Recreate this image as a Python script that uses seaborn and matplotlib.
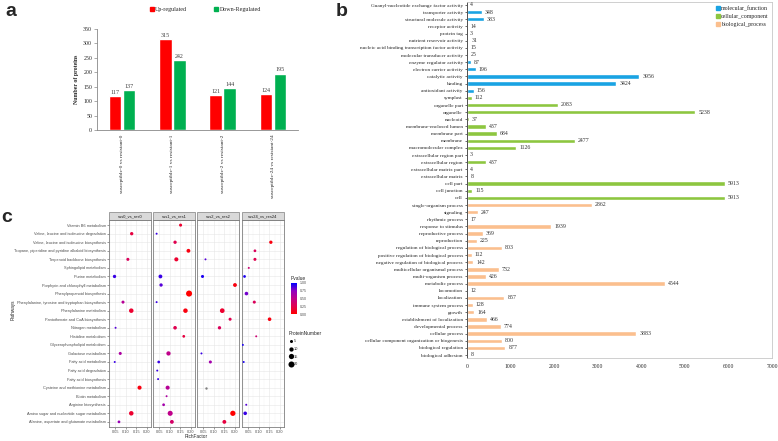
import numpy as np
import pandas as pd
import matplotlib
matplotlib.use('Agg')
import matplotlib.pyplot as plt
import seaborn as sns
from matplotlib.colors import LinearSegmentedColormap, Normalize
from matplotlib.colorbar import ColorbarBase
from matplotlib.patches import Rectangle
from matplotlib.lines import Line2D

sns.set_style('white')
plt.rcParams['font.family'] = 'Liberation Serif'

W, H = 778, 441

# --- panel a data ---
comparisons = ['susceptible-0 vs resistant-0', 'susceptible-1 vs resistant-1',
               'susceptible-2 vs resistant-2', 'susceptible-24 vs resistant-24']
up_counts = [117, 315, 121, 124]
down_counts = [137, 242, 144, 195]

# --- panel b data ---
mf_terms = ['Guanyl-nucleotide exchange factor activity', 'transporter activity',
            'structural molecule activity', 'receptor activity', 'protein tag',
            'nutrient reservoir activity', 'nucleic acid binding transcription factor activity',
            'molecular transducer activity', 'enzyme regulator activity',
            'electron carrier activity', 'catalytic activity', 'binding', 'antioxidant activity']
mf_counts = [4, 348, 383, 14, 3, 31, 15, 25, 87, 196, 3956, 3424, 156]
cc_terms = ['symplast', 'organelle part', 'organelle', 'nucleoid', 'membrane-enclosed lumen',
            'membrane part', 'membrane', 'macromolecular complex', 'extracellular region part',
            'extracellular region', 'extracellular matrix part', 'extracellular matrix',
            'cell part', 'cell junction', 'cell']
cc_counts = [112, 2083, 5238, 37, 437, 684, 2477, 1126, 3, 437, 4, 8, 5913, 115, 5913]
bp_terms = ['single-organism process', 'signaling', 'rhythmic process', 'response to stimulus',
            'reproductive process', 'reproduction', 'regulation of biological process',
            'positive regulation of biological process', 'negative regulation of biological process',
            'multicellular organismal process', 'multi-organism process', 'metabolic process',
            'locomotion', 'localization', 'immune system process', 'growth',
            'establishment of localization', 'developmental process', 'cellular process',
            'cellular component organization or biogenesis', 'biological regulation',
            'biological adhesion']
bp_counts = [2862, 247, 17, 1939, 369, 225, 803, 112, 142, 732, 426, 4544, 12, 857, 128, 164,
             466, 774, 3883, 800, 877, 8]
go_classes = ['molecular_function', 'cellular_component', 'biological_process']
go_colors = ['#1aa3e3', '#8dc640', '#fbbf8e']

# --- panel c data ---
pathways = ['Vitamin B6 metabolism', 'Valine, leucine and isoleucine degradation',
            'Valine, leucine and isoleucine biosynthesis',
            'Tropane, piperidine and pyridine alkaloid biosynthesis',
            'Terpenoid backbone biosynthesis', 'Sphingolipid metabolism', 'Purine metabolism',
            'Porphyrin and chlorophyll metabolism', 'Phenylpropanoid biosynthesis',
            'Phenylalanine, tyrosine and tryptophan biosynthesis', 'Phenylalanine metabolism',
            'Pantothenate and CoA biosynthesis', 'Nitrogen metabolism', 'Histidine metabolism',
            'Glycerophospholipid metabolism', 'Galactose metabolism', 'Fatty acid metabolism',
            'Fatty acid degradation', 'Fatty acid biosynthesis',
            'Cysteine and methionine metabolism', 'Biotin metabolism', 'Arginine biosynthesis',
            'Amino sugar and nucleotide sugar metabolism',
            'Alanine, aspartate and glutamate metabolism']
facets = ['sus0_vs_res0', 'sus1_vs_res1', 'sus2_vs_res2', 'sus24_vs_res24']

# row index into pathways, rich factor, p value, protein number
sus0_row = [1, 4, 6, 9, 10, 12, 15, 16, 19, 22, 23]
sus0_rich = [0.128, 0.110, 0.047, 0.087, 0.126, 0.052, 0.074, 0.048, 0.165, 0.126, 0.068]
sus0_p = [0.2, 0.3, 0.9, 0.55, 0.15, 0.85, 0.6, 0.9, 0.05, 0.15, 0.7]
sus0_n = [6, 5, 6, 5, 11, 2, 5, 2, 9, 11, 4]

sus1_row = [0, 1, 2, 3, 4, 6, 7, 8, 9, 10, 12, 13, 15, 16, 17, 18, 19, 20, 21, 22, 23]
sus1_rich = [0.151, 0.038, 0.125, 0.188, 0.131, 0.056, 0.059, 0.191, 0.038, 0.174, 0.125,
             0.166, 0.094, 0.048, 0.041, 0.045, 0.090, 0.085, 0.071, 0.102, 0.110]
sus1_p = [0.15, 0.9, 0.25, 0.05, 0.15, 0.9, 0.85, 0.0, 0.9, 0.05, 0.25, 0.2, 0.5, 0.9, 0.9,
          0.9, 0.55, 0.6, 0.65, 0.5, 0.35]
sus1_n = [5, 2, 6, 8, 9, 8, 6, 20, 2, 11, 7, 4, 10, 4, 2, 2, 9, 2, 4, 14, 8]

sus2_row = [4, 6, 7, 10, 11, 12, 15, 16, 19, 22, 23]
sus2_rich = [0.061, 0.047, 0.200, 0.140, 0.177, 0.127, 0.042, 0.084, 0.064, 0.190, 0.150]
sus2_p = [0.85, 0.95, 0.05, 0.15, 0.25, 0.3, 0.9, 0.65, np.nan, 0.0, 0.2]
sus2_n = [2, 5, 8, 12, 5, 6, 2, 5, 3, 15, 8]

sus24_row = [2, 3, 4, 5, 6, 8, 9, 11, 13, 14, 16, 21, 22]
sus24_rich = [0.157, 0.082, 0.082, 0.053, 0.033, 0.042, 0.079, 0.151, 0.088, 0.025, 0.029,
              0.041, 0.036]
sus24_p = [0.05, 0.3, 0.25, 0.4, 0.95, 0.8, 0.3, 0.05, 0.4, 0.95, 0.95, 0.85, 0.9]
sus24_n = [6, 4, 5, 2, 4, 7, 5, 7, 2, 2, 2, 2, 7]

size_levels = [5, 10, 15, 20]

fig = plt.figure(figsize=(W / 100, H / 100), dpi=100)

# ================= a =================
ax_a = fig.add_axes([97 / W, 1 - 130 / H, 201 / W, 101 / H])
df_a = pd.DataFrame({'comparison': comparisons * 2,
                     'count': up_counts + down_counts,
                     'type': ['Up-regulated'] * 4 + ['Down-Regulated'] * 4})
sns.barplot(data=df_a, x='comparison', y='count', hue='type',
            palette=['#ff0000', '#00b050'], width=0.56, gap=0.12, ax=ax_a,
            legend=False, saturation=1, errorbar=None)
for cont in ax_a.containers:
    ax_a.bar_label(cont, fontsize=4.3, padding=1, color='#404040')
ax_a.set_ylim(0, 350)
ax_a.set_yticks(range(0, 351, 50))
ax_a.set_xlim(-0.5, 3.5)
ax_a.set_xticks(range(4))
ax_a.set_xticklabels(comparisons, rotation=90, fontsize=3.9, va='top')
ax_a.tick_params(axis='x', length=0, pad=3)
ax_a.tick_params(axis='y', labelsize=4.2, length=2, width=0.5, pad=1.5, left=True,
                 color='#888888')
ax_a.set_xlabel('')
ax_a.set_ylabel('Number of proteins', fontsize=4.2, fontweight='bold', labelpad=3)
for s in ['top', 'right']:
    ax_a.spines[s].set_visible(False)
for s in ['left', 'bottom']:
    ax_a.spines[s].set_color('#888888')
    ax_a.spines[s].set_linewidth(0.6)
ax_a.legend(handles=[Line2D([], [], marker='s', ls='', color='#ff0000', markersize=2.5),
                     Line2D([], [], marker='s', ls='', color='#00b050', markersize=2.5)],
            labels=['Up-regulated', 'Down-Regulated'], ncol=2, loc='center',
            bbox_to_anchor=(0.54, 1.19), frameon=False, fontsize=4.3,
            handlelength=0.6, handletextpad=0.2, columnspacing=4.6)

# ================= b =================
ax_b = fig.add_axes([467 / W, 1 - 358 / H, 305 / W, 356 / H])
go_terms = mf_terms + cc_terms + bp_terms
go_counts = mf_counts + cc_counts + bp_counts
go_class = ([go_classes[0]] * len(mf_terms) + [go_classes[1]] * len(cc_terms)
            + [go_classes[2]] * len(bp_terms))
df_b = pd.DataFrame({'term': go_terms, 'count': go_counts, 'class': go_class})
sns.barplot(data=df_b, y='term', x='count', hue='class', palette=go_colors,
            dodge=False, width=0.62, ax=ax_b, legend=False, saturation=1,
            errorbar=None, orient='h')
for i, v in enumerate(go_counts):
    ax_b.text(v + 70, i, str(v), va='center', ha='left', fontsize=4.2, color='#333333')
ax_b.set_xlim(0, 7000)
ax_b.set_xticks(range(0, 7001, 1000))
ax_b.set_ylim(len(go_terms) - 1 + 0.42, -0.42)
ax_b.set_xlabel('')
ax_b.set_ylabel('')
ax_b.tick_params(axis='y', labelsize=3.8, length=1.5, width=0.5, pad=1.5, left=True,
                 color='#333333')
ax_b.tick_params(axis='x', labelsize=4.1, length=0, pad=4)
for s in ['top', 'right', 'bottom']:
    ax_b.spines[s].set_color('#c8c8c8')
    ax_b.spines[s].set_linewidth(0.6)
ax_b.spines['left'].set_color('#333333')
ax_b.spines['left'].set_linewidth(0.6)
ax_b.legend(handles=[Line2D([], [], marker='s', ls='', color=c, markersize=2.3)
                     for c in go_colors],
            labels=go_classes, loc='upper left', bbox_to_anchor=(0.805, 1.0),
            frameon=False, fontsize=4.2, handlelength=0.5, handletextpad=0.2,
            labelspacing=0.45, borderaxespad=0.3)

# ================= c =================
cmap_c = LinearSegmentedColormap.from_list(
    'pv', ['#ff0000', '#e0004f', '#bf008a', '#9000c0', '#0000ff'])
df_c = pd.concat([
    pd.DataFrame({'facet': facets[0], 'row': sus0_row, 'RichFactor': sus0_rich,
                  'Pvalue': sus0_p, 'ProteinNumber': sus0_n}),
    pd.DataFrame({'facet': facets[1], 'row': sus1_row, 'RichFactor': sus1_rich,
                  'Pvalue': sus1_p, 'ProteinNumber': sus1_n}),
    pd.DataFrame({'facet': facets[2], 'row': sus2_row, 'RichFactor': sus2_rich,
                  'Pvalue': sus2_p, 'ProteinNumber': sus2_n}),
    pd.DataFrame({'facet': facets[3], 'row': sus24_row, 'RichFactor': sus24_rich,
                  'Pvalue': sus24_p, 'ProteinNumber': sus24_n}),
], ignore_index=True)

sizes_c = (2, 19)
norm_c = (2, 20)
facet_x = [109, 153, 197, 242]
plt.rcParams['font.family'] = 'Liberation Sans'
for k, name in enumerate(facets):
    ax = fig.add_axes([facet_x[k] / W, 1 - 427 / H, 42 / W, 207 / H])
    sub = df_c[df_c['facet'] == name]
    ok = sub.dropna(subset=['Pvalue'])
    sns.scatterplot(data=ok, x='RichFactor', y='row', hue='Pvalue', palette=cmap_c,
                    hue_norm=(0, 1), size='ProteinNumber', sizes=sizes_c, size_norm=norm_c,
                    ax=ax, legend=False, linewidth=0, zorder=3)
    na = sub[sub['Pvalue'].isna()]
    if len(na):
        sns.scatterplot(data=na, x='RichFactor', y='row', color='#7f7f7f',
                        size='ProteinNumber', sizes=sizes_c, size_norm=norm_c,
                        ax=ax, legend=False, linewidth=0, zorder=3)
    ax.set_xlim(0.021, 0.219)
    ax.set_ylim(len(pathways) - 1 + 0.6, -0.6)
    ax.set_xticks([0.05, 0.10, 0.15, 0.20])
    ax.set_xticklabels(['0.05', '0.10', '0.15', '0.20'])
    ax.set_xticks([0.025, 0.075, 0.125, 0.175], minor=True)
    ax.set_yticks(range(len(pathways)))
    ax.grid(which='major', color='#e6e6e6', lw=0.4)
    ax.grid(which='minor', axis='x', color='#f2f2f2', lw=0.3)
    ax.set_axisbelow(True)
    ax.tick_params(axis='x', which='major', labelsize=2.8, length=1.2, width=0.4, pad=1,
                   colors='#4d4d4d', bottom=True)
    ax.tick_params(axis='x', which='minor', length=0)
    if k == 0:
        ax.set_yticklabels(pathways)
        ax.tick_params(axis='y', labelsize=2.8, length=1.2, width=0.4, pad=1,
                       colors='#4d4d4d', left=True)
    else:
        ax.tick_params(axis='y', labelleft=False, length=0)
    ax.set_xlabel('')
    ax.set_ylabel('')
    for s in ax.spines.values():
        s.set_color('#7f7f7f')
        s.set_linewidth(0.6)
    ax.add_patch(Rectangle((0, 1), 1, 8 / 207, transform=ax.transAxes, clip_on=False,
                           facecolor='#d9d9d9', edgecolor='#7f7f7f', lw=0.5))
    ax.text(0.5, 1 + 4 / 207, name, transform=ax.transAxes, ha='center', va='center',
            fontsize=2.9, color='#1a1a1a')

fig.text(196 / W, 1 - 437 / H, 'RichFactor', ha='center', va='center', fontsize=3.4)
fig.text(13 / W, 1 - 310 / H, 'Pathways', ha='center', va='center', rotation=90,
         fontsize=3.4)

# colour legend
fig.text(291 / W, 1 - 279 / H, 'Pvalue', ha='left', va='center', fontsize=3.5)
cax = fig.add_axes([291 / W, 1 - 314 / H, 6 / W, 31 / H])
cb = ColorbarBase(cax, cmap=cmap_c, norm=Normalize(0, 1))
cb.set_ticks([0, 0.25, 0.5, 0.75, 1.0])
cb.set_ticklabels(['0.00', '0.25', '0.50', '0.75', '1.00'])
cb.outline.set_visible(False)
cax.tick_params(labelsize=2.6, length=1, width=0.3, colors='white', pad=1)
for t in cax.get_yticklabels():
    t.set_color('#4d4d4d')

# size legend
size_handles = [Line2D([], [], marker='o', ls='', color='black', markeredgewidth=0,
                       markersize=np.sqrt(sizes_c[0] + (v - norm_c[0]) / (norm_c[1] - norm_c[0])
                                          * (sizes_c[1] - sizes_c[0])))
                for v in size_levels]
leg = fig.legend(size_handles, [str(v) for v in size_levels], title='ProteinNumber',
                 loc='upper left', bbox_to_anchor=(289 / W, 1 - 331 / H), frameon=False,
                 fontsize=2.8, title_fontsize=3.5, labelspacing=0.9, handletextpad=0.3,
                 handlelength=1.0, borderaxespad=0, borderpad=0)
leg._legend_box.align = 'left'

# panel letters
fig.text(5 / W, 1 - 12 / H, 'a', fontsize=14, fontweight='bold', va='center',
         family='Liberation Sans')
fig.text(336 / W, 1 - 11 / H, 'b', fontsize=14, fontweight='bold', va='center',
         family='Liberation Sans')
fig.text(1 / W, 1 - 217 / H, 'c', fontsize=14, fontweight='bold', va='center',
         family='Liberation Sans')

fig.savefig('out.png', dpi=100, facecolor='white')
